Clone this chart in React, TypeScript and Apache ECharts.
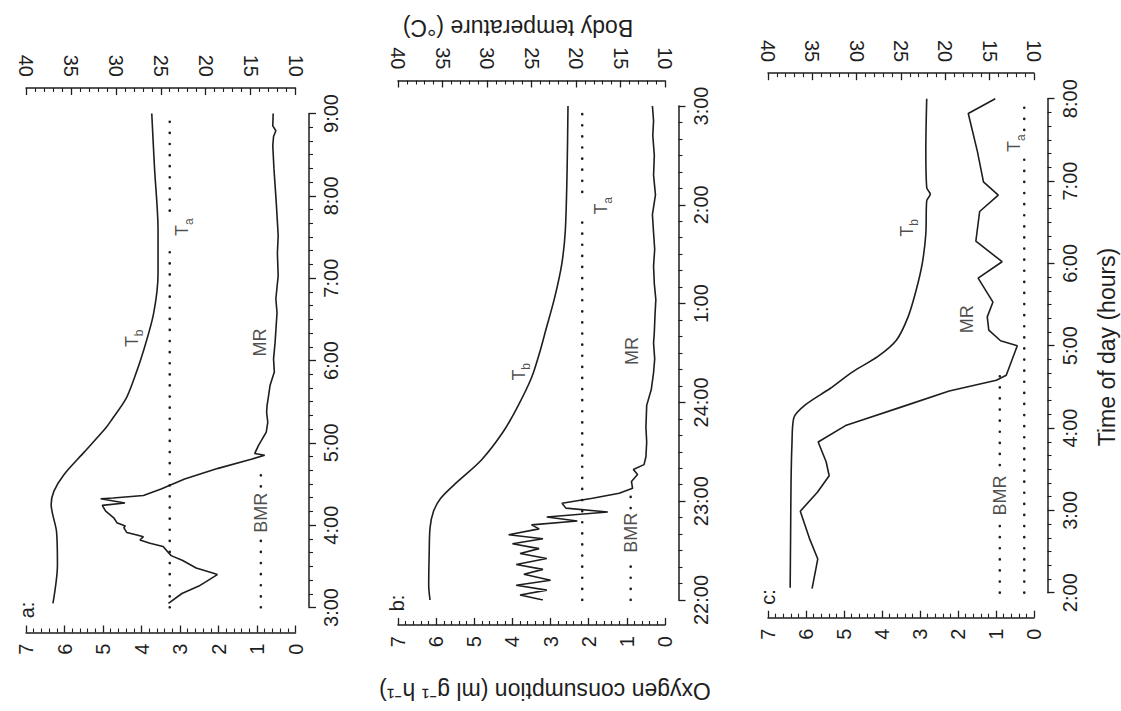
import React, { useEffect, useRef } from 'react';
import * as echarts from 'echarts';

const FONT = '"Liberation Sans", Arial, Helvetica, sans-serif';
const INK = '#1e1e1e';

// ---------- data: [hour, value] ----------
// panel a (03:00 - 09:00)
const aMR = [
  [3.05, 3.30], [3.17, 2.95], [3.26, 2.51], [3.40, 2.03], [3.42, 2.15], [3.48, 2.58], [3.57, 2.93],
  [3.63, 3.23], [3.74, 3.44], [3.78, 3.78], [3.82, 4.04], [3.86, 3.95], [3.88, 4.12], [3.91, 4.38],
  [3.97, 4.46], [3.99, 4.42], [4.03, 4.64], [4.09, 4.72], [4.17, 4.93], [4.24, 5.02], [4.27, 4.43],
  [4.32, 5.06], [4.33, 4.74], [4.36, 3.95], [4.44, 3.49], [4.56, 2.88], [4.69, 2.01], [4.80, 1.15],
  [4.85, 0.80], [4.87, 1.06], [4.97, 0.96], [5.13, 0.76], [5.25, 0.72], [5.37, 0.75], [5.45, 0.74],
  [5.57, 0.70], [5.70, 0.66], [5.86, 0.55], [6.02, 0.57], [6.22, 0.53], [6.58, 0.48], [6.75, 0.51],
  [7.03, 0.45], [7.30, 0.47], [7.52, 0.45], [7.92, 0.50], [8.33, 0.56], [8.61, 0.59], [8.72, 0.57],
  [8.79, 0.51], [8.85, 0.59], [9.0, 0.58],
];
const aTb = [
  [3.05, 37.0], [3.52, 36.5], [3.92, 36.6], [4.25, 37.2], [4.41, 36.9], [4.61, 35.8], [4.89, 33.5],
  [5.17, 31.2], [5.29, 30.4], [5.53, 28.9], [5.77, 28.0], [6.09, 27.0], [6.57, 25.8], [7.06, 25.3],
  [7.58, 25.3], [8.35, 25.7], [9.0, 26.0],
];
const aTa = 24.0;
const aTaSpans = [[3.0, 7.42], [7.82, 9.0]];
const aBMR = 0.9;
const aBMRSpans = [[3.0, 3.82], [4.47, 4.68]];
const aLabelTb = [6.27, 28.2];
const aLabelTa = [7.62, 22.6];
const aLabelMR = [6.22, 0.91];
const aLabelBMR = [4.15, 0.9];

// panel b (22:00 - 03:00, hours past midnight written as 25, 26, 27)
const bMR = [
  [22.00, 3.2], [22.05, 3.8], [22.10, 3.1], [22.15, 3.9], [22.20, 3.0], [22.26, 3.7], [22.31, 3.2],
  [22.36, 3.9], [22.42, 3.1], [22.47, 3.8], [22.52, 3.3], [22.57, 4.0], [22.62, 3.2], [22.66, 4.1],
  [22.72, 3.3], [22.76, 3.5], [22.80, 2.3], [22.84, 3.1], [22.89, 1.5], [22.93, 2.6], [22.98, 2.7],
  [23.03, 1.9], [23.08, 1.2], [23.13, 0.85], [23.20, 0.88], [23.27, 0.72], [23.32, 0.83], [23.37, 0.55],
  [23.45, 0.50], [23.60, 0.48], [23.75, 0.50], [23.97, 0.48], [24.13, 0.36], [24.30, 0.30], [24.44, 0.27],
  [24.60, 0.30], [24.71, 0.28], [24.90, 0.26], [25.04, 0.24], [25.20, 0.28], [25.38, 0.30], [25.55, 0.27],
  [25.72, 0.30], [25.90, 0.33], [26.10, 0.25], [26.30, 0.30], [26.50, 0.28], [26.70, 0.32], [26.85, 0.30],
  [27.0, 0.33],
];
const bTb = [
  [22.0, 36.4], [22.15, 36.55], [22.45, 36.5], [22.73, 36.4], [22.9, 36.0], [23.03, 35.2], [23.19, 33.4],
  [23.42, 30.6], [23.70, 28.2], [23.95, 26.6], [24.25, 25.0], [24.5, 24.1], [24.73, 23.4], [25.06, 22.4],
  [25.4, 21.6], [25.74, 21.2], [26.35, 21.0], [27.0, 20.9],
];
const bTa = 19.3;
const bTaSpans = [[22.0, 25.86], [26.13, 27.0]];
const bBMR = 0.9;
const bBMRSpans = [[22.0, 22.43], [22.93, 23.1]];
const bLabelTb = [24.31, 26.4];
const bLabelTa = [25.99, 17.2];
const bLabelMR = [24.52, 0.86];
const bLabelBMR = [22.68, 0.9];

// panel c (02:00 - 08:00)
const cMR = [
  [2.05, 5.84], [2.29, 5.74], [2.41, 5.69], [2.66, 5.91], [2.99, 6.15], [3.22, 5.70], [3.42, 5.39],
  [3.59, 5.47], [3.83, 5.68], [4.03, 4.96], [4.07, 4.70], [4.26, 3.46], [4.45, 2.23], [4.58, 0.99],
  [4.64, 0.73], [5.0, 0.44], [5.06, 0.88], [5.19, 1.19], [5.35, 1.23], [5.53, 1.08], [5.82, 1.47],
  [6.02, 0.84], [6.27, 1.53], [6.63, 1.43], [6.83, 0.94], [6.99, 1.33], [7.36, 1.49], [7.82, 1.73],
  [8.0, 1.02],
];
const cTb = [
  [2.06, 37.5], [2.7, 37.45], [3.35, 37.4], [3.8, 37.3], [4.12, 37.1], [4.28, 35.8], [4.48, 33.0],
  [4.68, 30.5], [4.87, 27.6], [5.07, 25.5], [5.35, 24.2], [5.67, 23.3], [6.0, 22.6], [6.36, 22.2],
  [6.76, 22.1], [6.84, 21.7], [6.92, 22.1], [7.37, 22.2], [8.0, 22.1],
];
const cTa = 11.1;
const cTaSpans = [[2.0, 7.27], [7.62, 8.0]];
const cBMR = 0.9;
const cBMRSpans = [[2.0, 2.82], [3.55, 4.72]];
const cLabelTb = [6.43, 24.3];
const cLabelTa = [7.46, 12.2];
const cLabelMR = [5.32, 1.77];
const cLabelBMR = [3.18, 0.9];

// time-axis ranges
const timeRanges = [[3, 9], [22, 27], [2, 8]];
const panelLetters = ['a:', 'b:', 'c:'];

// ---------- layout ----------
const LAYOUT = [
  { left: 26, width: 269.5, top: 113.5, letter: [27, 610] },
  { left: 398, width: 267, top: 106, letter: [397, 603] },
  { left: 768, width: 266, top: 98.7, letter: [768, 597] },
];
const GRID_H = 494;

const PANELS = [
  { mr: aMR, tb: aTb, ta: aTa, taSpans: aTaSpans, bmr: aBMR, bmrSpans: aBMRSpans, lTb: aLabelTb, lTa: aLabelTa, lMR: aLabelMR, lBMR: aLabelBMR },
  { mr: bMR, tb: bTb, ta: bTa, taSpans: bTaSpans, bmr: bBMR, bmrSpans: bBMRSpans, lTb: bLabelTb, lTa: bLabelTa, lMR: bLabelMR, lBMR: bLabelBMR },
  { mr: cMR, tb: cTb, ta: cTa, taSpans: cTaSpans, bmr: cBMR, bmrSpans: cBMRSpans, lTb: cLabelTb, lTa: cLabelTa, lMR: cLabelMR, lBMR: cLabelBMR },
];

const flip = (arr: number[][]) => arr.map(([t, v]) => [v, t]);
const spanData = (v: number, spans: number[][]) => {
  const out: any[] = [];
  spans.forEach((s, k) => {
    if (k > 0) out.push(['-', '-']);
    out.push([v, s[0]], [v, s[1]]);
  });
  return out;
};

const axisLineStyle = { color: INK, width: 1.5 };
const tickStyle = { color: INK, width: 1.3 };
const minorStyle = { color: INK, width: 1.1 };
const tickLabel = { fontSize: 20, fontFamily: FONT, color: INK, rotate: 90 };

const labelRich = {
  m: { fontSize: 18, fontFamily: FONT, color: INK, lineHeight: 26 },
  s: { fontSize: 12, fontFamily: FONT, color: INK, lineHeight: 12, verticalAlign: 'bottom' },
};

function buildOption(): any {
  const grid = LAYOUT.map((l) => ({ left: l.left, top: l.top, width: l.width, height: GRID_H }));
  const xAxis: any[] = [];
  const yAxis: any[] = [];
  const series: any[] = [];

  PANELS.forEach((p, i) => {
    xAxis.push({
      type: 'value', gridIndex: i, position: 'bottom', offset: 25, min: 0, max: 7, interval: 1, inverse: true,
      axisLine: { show: true, onZero: false, lineStyle: axisLineStyle },
      axisTick: { show: true, inside: true, length: 7, lineStyle: tickStyle },
      minorTick: { show: true, splitNumber: 5, length: 4, lineStyle: minorStyle },
      splitLine: { show: false }, minorSplitLine: { show: false },
      axisLabel: { ...tickLabel, margin: 11 },
    });
    xAxis.push({
      type: 'value', gridIndex: i, position: 'top', offset: 25.5, min: 10, max: 40, interval: 5, inverse: true,
      axisLine: { show: true, onZero: false, lineStyle: axisLineStyle },
      axisTick: { show: true, inside: true, length: 7, lineStyle: tickStyle },
      minorTick: { show: true, splitNumber: 5, length: 4, lineStyle: minorStyle },
      splitLine: { show: false }, minorSplitLine: { show: false },
      axisLabel: { ...tickLabel, margin: 11 },
    });
    yAxis.push({
      type: 'value', gridIndex: i, position: 'right', offset: 13.5,
      min: timeRanges[i][0], max: timeRanges[i][1], interval: 1,
      axisLine: { show: true, onZero: false, lineStyle: axisLineStyle },
      axisTick: { show: true, inside: false, length: 7, lineStyle: tickStyle },
      minorTick: { show: true, splitNumber: 6, length: 4, lineStyle: minorStyle },
      splitLine: { show: false }, minorSplitLine: { show: false },
      axisLabel: {
        ...tickLabel, margin: 12,
        formatter: (v: number) => {
          const h = Math.round(v);
          return `${h > 24 ? h - 24 : h}:00`;
        },
      },
    });

    const oxy = 2 * i;
    const temp = 2 * i + 1;
    series.push({
      type: 'line', xAxisIndex: oxy, yAxisIndex: i, data: flip(p.mr), symbol: 'none', silent: true,
      lineStyle: { color: INK, width: 1.6 },
    });
    series.push({
      type: 'line', xAxisIndex: temp, yAxisIndex: i, data: flip(p.tb), symbol: 'none', silent: true, smooth: 0.3,
      lineStyle: { color: INK, width: 1.6 },
    });
    series.push({
      type: 'line', xAxisIndex: temp, yAxisIndex: i, data: spanData(p.ta, p.taSpans), symbol: 'none', silent: true,
      connectNulls: false,
      lineStyle: { color: INK, width: 2.6, type: [0.1, 11], cap: 'round' },
    });
    series.push({
      type: 'line', xAxisIndex: oxy, yAxisIndex: i, data: spanData(p.bmr, p.bmrSpans), symbol: 'none', silent: true,
      connectNulls: false,
      lineStyle: { color: INK, width: 2.6, type: [0.1, 11], cap: 'round' },
    });
    const lbl = { show: true, position: 'inside', rotate: 90, rich: labelRich, fontFamily: FONT, fontSize: 18, color: INK };
    series.push({
      type: 'scatter', xAxisIndex: temp, yAxisIndex: i, symbolSize: 1, silent: true,
      itemStyle: { color: 'rgba(0,0,0,0)' },
      label: lbl,
      data: [
        { value: [p.lTb[1], p.lTb[0]], label: { formatter: '{m|T}{s|b}' } },
        { value: [p.lTa[1], p.lTa[0]], label: { formatter: '{m|T}{s|a}' } },
      ],
    });
    series.push({
      type: 'scatter', xAxisIndex: oxy, yAxisIndex: i, symbolSize: 1, silent: true,
      itemStyle: { color: 'rgba(0,0,0,0)' },
      label: lbl,
      data: [
        { value: [p.lMR[1], p.lMR[0]], label: { formatter: '{m|MR}' } },
        { value: [p.lBMR[1], p.lBMR[0]], label: { formatter: '{m|BMR}' } },
      ],
    });
  });

  const graphic: any[] = [
    {
      type: 'text', x: 518, y: 28, rotation: Math.PI, silent: true,
      style: { text: 'Body temperature (°C)', fontSize: 23, fontFamily: FONT, fill: INK, align: 'center', verticalAlign: 'middle' },
    },
    {
      type: 'text', x: 545, y: 691, rotation: Math.PI, silent: true,
      style: { text: 'Oxygen consumption (ml g⁻¹ h⁻¹)', fontSize: 23, fontFamily: FONT, fill: INK, align: 'center', verticalAlign: 'middle' },
    },
    {
      type: 'text', x: 1107, y: 347, rotation: Math.PI / 2, silent: true,
      style: { text: 'Time of day (hours)', fontSize: 23, fontFamily: FONT, fill: INK, align: 'center', verticalAlign: 'middle' },
    },
    ...LAYOUT.map((l, i) => ({
      type: 'text', x: l.letter[0], y: l.letter[1], rotation: Math.PI / 2, silent: true,
      style: { text: panelLetters[i], fontSize: 20, fontFamily: FONT, fill: INK, align: 'center', verticalAlign: 'middle' },
    })),
  ];

  return {
    animation: false,
    backgroundColor: '#ffffff',
    textStyle: { fontFamily: FONT },
    grid,
    xAxis,
    yAxis,
    series,
    graphic,
  };
}

export default function App() {
  const ref = useRef<HTMLDivElement>(null);
  useEffect(() => {
    if (!ref.current) return;
    const chart = echarts.init(ref.current, undefined, { renderer: 'svg' });
    chart.setOption(buildOption());
    return () => chart.dispose();
  }, []);
  return (
    <div
      ref={ref}
      style={{ position: 'fixed', left: 0, top: 0, width: 1121, height: 711, background: '#fff' }}
    />
  );
}
